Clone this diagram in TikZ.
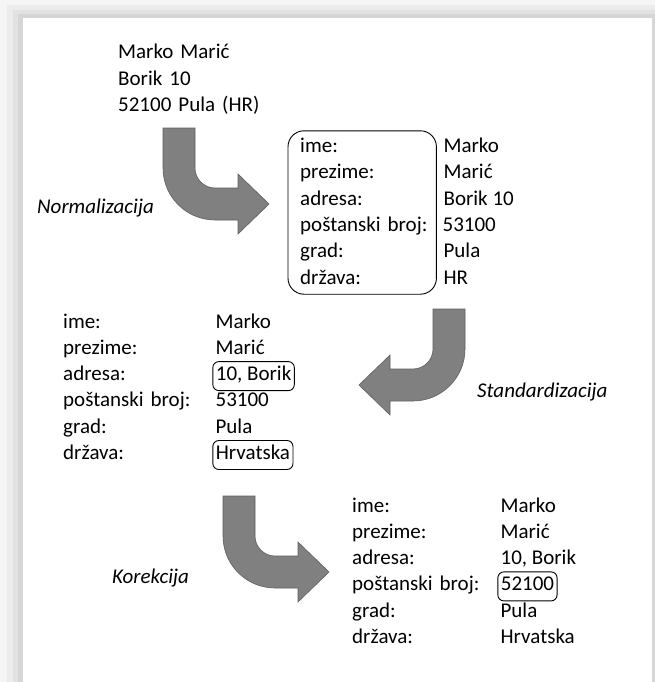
\documentclass[tikz,border=0pt]{standalone}
\usepackage{fontspec}
\setmainfont{Carlito}
\usepackage{xcolor}
\usetikzlibrary{positioning}

\definecolor{arrowgray}{HTML}{808080}
\definecolor{arrowedge}{HTML}{606060}

\tikzset{
  bend arrow/.pic={
    \filldraw[fill=arrowgray, draw=arrowedge, line width=0.6pt]
      (0,0) -- (32,0) -- (32,40)
      .. controls (32,51) and (41,60) .. (52,60)
      -- (75,60) -- (75,46) -- (106,76) -- (75,106) -- (75,92) -- (52,92)
      .. controls (23.3,92) and (0,68.7) .. (0,40) -- cycle;
  }
}

\begin{document}
\begin{tikzpicture}[x=1pt, y=-1pt, node distance=26.3pt,
  font=\fontsize{21pt}{25pt}\selectfont,
  fld/.style={text width=130pt, inner sep=0pt, text height=14pt, text depth=5pt, align=left},
  val/.style={inner xsep=3pt, inner ysep=0pt, text height=14pt, text depth=5pt},
  chg/.style={val, draw, rounded corners=6pt, inner ysep=5pt, line width=0.9pt},
  phase/.style={inner sep=0pt, anchor=base west, font=\fontsize{21pt}{25pt}\selectfont\itshape}]
%
\useasboundingbox (0,0) rectangle (655,682);
\fill[gray!8] (0,0) rectangle (655,682);
\fill[gray!15] (7,5) rectangle (655,682);
\fill[gray!23] (13,10) rectangle (655,682);
\fill[gray!32] (18,14) rectangle (655,682);
\fill[white] (23,18) rectangle (652,682);
%
\node (ad1) [fld, text width=180pt, anchor=west] at (118,54.5) {Marko Marić};
\node (ad2) [fld, text width=180pt, below of=ad1] {Borik 10};
\node (ad3) [fld, text width=180pt, below of=ad2] {52100 Pula (HR)};
%
\pic at (163,128) {bend arrow};
\node (norm) [phase] at (37,213) {Normalizacija};
%
\node (a1) [fld, anchor=west] at (300,148) {ime:};
\node (a2) [fld, below of=a1] {prezime:};
\node (a3) [fld, below of=a2] {adresa:};
\node (a4) [fld, below of=a3] {poštanski broj:};
\node (a5) [fld, below of=a4] {grad:};
\node (a6) [fld, below of=a5] {država:};
\node (va1) [val, right=10pt of a1] {Marko};
\node (va2) [val, right=10pt of a2] {Marić};
\node (va3) [val, right=10pt of a3] {Borik 10};
\node (va4) [val, right=9pt of a4] {53100};
\node (va5) [val, right=10pt of a5] {Pula};
\node (va6) [val, right=10pt of a6] {HR};
\draw[rounded corners=16pt, line width=0.9pt] ([shift={(-12,-7.5)}]a1.north west) rectangle ([shift={(6,5)}]a6.south east);
%
\pic[xscale=-1] at (465,309) {bend arrow};
\node (std) [phase] at (477,397) {Standardizacija};
%
\node (b1) [fld, anchor=west] at (63,323.5) {ime:};
\node (b2) [fld, below of=b1] {prezime:};
\node (b3) [fld, below of=b2] {adresa:};
\node (b4) [fld, below of=b3] {poštanski broj:};
\node (b5) [fld, below of=b4] {grad:};
\node (b6) [fld, below of=b5] {država:};
\node (vb1) [val, right=19pt of b1] {Marko};
\node (vb2) [val, right=19pt of b2] {Marić};
\node (vb3) [chg, right=19pt of b3] {10, Borik};
\node (vb4) [val, right=19pt of b4] {53100};
\node (vb5) [val, right=19pt of b5] {Pula};
\node (vb6) [chg, right=19pt of b6] {Hrvatska};
%
\pic at (223,496) {bend arrow};
\node (kor) [phase] at (112,583) {Korekcija};
%
\node (d1) [fld, anchor=west] at (352,507.5) {ime:};
\node (d2) [fld, below of=d1] {prezime:};
\node (d3) [fld, below of=d2] {adresa:};
\node (d4) [fld, below of=d3] {poštanski broj:};
\node (d5) [fld, below of=d4] {grad:};
\node (d6) [fld, below of=d5] {država:};
\node (vd1) [val, right=15pt of d1] {Marko};
\node (vd2) [val, right=15pt of d2] {Marić};
\node (vd3) [val, right=15pt of d3] {10, Borik};
\node (vd4) [chg, right=15pt of d4] {52100};
\node (vd5) [val, right=15pt of d5] {Pula};
\node (vd6) [val, right=15pt of d6] {Hrvatska};
\end{tikzpicture}
\end{document}
